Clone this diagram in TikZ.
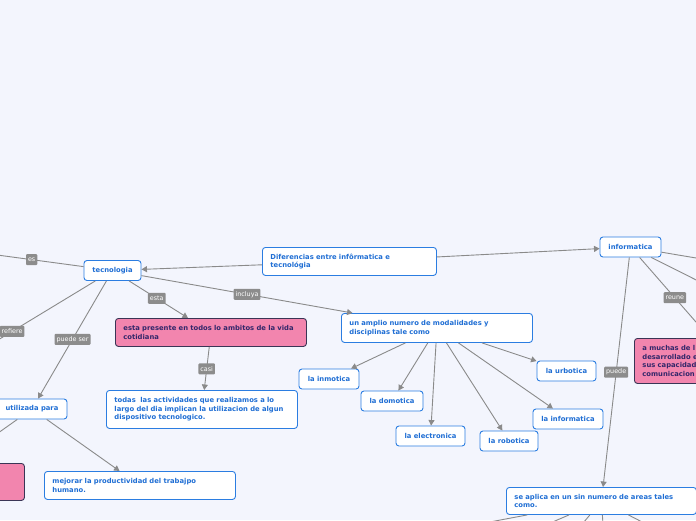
\documentclass[tikz,border=0pt]{standalone}
\usepackage{fontspec}
\setmainfont{DejaVu Sans}
\usetikzlibrary{arrows.meta}
\definecolor{bgc}{HTML}{F3F5FD}
\definecolor{bblue}{HTML}{2B7DE1}
\definecolor{tblue}{HTML}{1F6ED4}
\definecolor{pinkf}{HTML}{F285AE}
\definecolor{pinkb}{HTML}{3A3556}
\definecolor{pinkt}{HTML}{33276A}
\definecolor{lgray}{HTML}{8C8C8C}
\definecolor{egray}{HTML}{8A8A8A}
\tikzset{
  box/.style={draw=bblue, fill=white, rounded corners=3pt, line width=0.9pt,
    font=\fontsize{6.8}{8.5}\selectfont\bfseries, text=tblue,
    inner xsep=8pt, inner ysep=2pt, minimum height=20pt},
  tbox/.style={box, align=left, anchor=north west},
  pbox/.style={tbox, draw=pinkb, fill=pinkf, text=pinkt},
  lbl/.style={fill=lgray, text=white, rounded corners=1pt,
    font=\fontsize{6.4}{7}\selectfont, inner xsep=2pt, inner ysep=0pt,
    minimum height=11pt},
  edge/.style={draw=egray, line width=0.9pt},
  arr/.style={edge, -{Triangle[width=6pt,length=5.5pt]}},
}
\begin{document}
\begin{tikzpicture}[x=1pt,y=-1pt]
\fill[bgc] (0,0) rectangle (696,520);
\useasboundingbox (0,0) rectangle (696,520);
\clip (0,0) rectangle (696,520);

% boxes
\node[box, minimum width=57pt] (tec) at (112.5,270.5) {tecnologia};
\node[box, minimum width=61pt] (info) at (630.5,247) {informatica};
\node[tbox, text width=158pt, minimum height=28pt] (dif) at (262,247) {Diferencias entre infôrmatica e\\tecnológia};
\node[pbox, text width=175pt, minimum height=28pt] (esta) at (115,318) {esta presente en todos lo ambitos de la vida\\cotidiana};
\node[tbox, text width=175pt, minimum height=38pt] (todas) at (106,390) {todas\ \ las actividades que realizamos a lo\\largo del dia implican la utilizacion de algun\\dispositivo tecnologico.};
\node[tbox, text width=175pt, minimum height=29pt] (amplio) at (341,313) {un amplio numero de modalidades y\\disciplinas tale como};
\node[box, minimum width=60pt] (inmo) at (329,379) {la inmotica};
\node[box, minimum width=62pt] (domo) at (392,401) {la domotica};
\node[box, minimum width=69pt] (elec) at (430.5,436) {la electronica};
\node[box, minimum width=58pt] (robo) at (509,441) {la robotica};
\node[box, minimum width=59pt] (urbo) at (566.5,371) {la urbotica};
\node[box, minimum width=70pt] (linfo) at (568,419) {la informatica};
\node[box, minimum width=70pt] (util) at (32,409) {utilizada para};
\node[tbox, text width=175pt, minimum height=28pt] (mejo) at (44,471) {mejorar la productividad del trabajpo\\humano.};
\node[tbox, text width=174pt, minimum height=27pt] (aplica) at (506,487) {se aplica en un sin numero de areas tales\\como.};
\node[pbox, text width=175pt, minimum height=45pt] (pinkR) at (634,338) {a muchas de l\\desarrollado e\\sus capacidad\\comunicacion};
\node[pbox, text width=175pt, minimum height=37pt] (pinkL) at (-167,463) {};

% off-screen ends
\coordinate (offEs) at (-40,250);
\coordinate (offRef) at (-40,363);
\coordinate (offI1) at (760,268.7);
\coordinate (offI2) at (760,312);
\coordinate (offA1) at (317,554.5);
\coordinate (offA2) at (477,554.5);
\coordinate (offA3) at (557,554.5);
\coordinate (offA4) at (605,554.5);
\coordinate (offA5) at (705,554.5);

% connectors
\draw[arr] (tec) -- node[lbl, pos=0.42] {es} (offEs);
\draw[arr] (tec) -- node[lbl, pos=0.615] {refiere} (offRef);
\draw[arr] (tec) -- node[lbl, pos=0.496] {puede ser} (util);
\draw[arr] (tec) -- node[lbl, pos=0.47] {esta} (esta);
\draw[arr] (tec) -- node[lbl, pos=0.5] {incluya} (amplio);
\draw[arr] (dif) -- (tec);
\draw[arr] (dif) -- (info);
\draw[arr] (esta) -- node[lbl, pos=0.51] {casi} (todas);
\draw[arr] (util) -- (mejo);
\draw[arr] (util) -- (pinkL);
\draw[arr] (amplio) -- (inmo);
\draw[arr] (amplio) -- (domo);
\draw[arr] (amplio) -- (elec);
\draw[arr] (amplio) -- (robo);
\draw[arr] (amplio) -- (linfo);
\draw[arr] (amplio) -- (urbo);
\draw[arr] (info) -- node[lbl, pos=0.5] {puede} (aplica);
\draw[arr] (info) -- node[lbl, pos=0.5] {reune} (pinkR);
\draw[arr] (info) -- (offI1);
\draw[arr] (info) -- (offI2);
\draw[arr] (aplica) -- (offA1);
\draw[arr] (aplica) -- (offA2);
\draw[arr] (aplica) -- (offA3);
\draw[arr] (aplica) -- (offA4);
\draw[arr] (aplica) -- (offA5);
\end{tikzpicture}
\end{document}
